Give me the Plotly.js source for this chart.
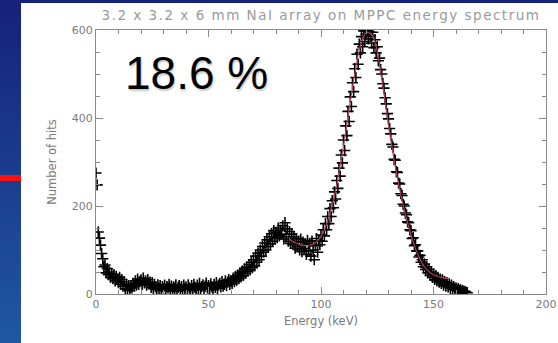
<!DOCTYPE html>
<html>
<head>
<meta charset="utf-8">
<script src="https://cdn.plot.ly/plotly-3.0.1.min.js"></script>
<style>
  html, body { margin:0; padding:0; width:558px; height:343px; overflow:hidden; }
  body { background: linear-gradient(180deg, #16217a 0%, #1a3a8c 45%, #1f58a2 100%); position:relative; }
  #panel { position:absolute; left:21px; top:3px; width:537px; height:340px; background:#ffffff; }
  #redbar { position:absolute; left:0; top:175px; width:21px; height:6px; background:#ff1010; }
  #chart { position:absolute; left:0; top:0; width:558px; height:343px; }
  .annotation-text { text-shadow: 1px 2px 2px rgba(0,0,0,0.22); }
  .gtitle { letter-spacing: 1.5px; }
</style>
</head>
<body>
<div id="panel"></div>
<div id="redbar"></div>
<div id="chart"></div>
<script>
// Measured spectrum: counts per 0.5 keV bin starting at 0 keV
const energyStart = 0;
const energyStep = 0.5;
const counts = [
  275, 248, 141, 127, 111, 92, 80, 62, 66, 48, 58, 44, 50, 38, 46, 35, 44, 30, 40, 34,
  26, 38, 22, 33, 18, 28, 12, 22, 10, 19, 8, 16, 14, 24, 18, 30, 20, 34, 22, 28,
  32, 22, 36, 25, 30, 20, 33, 24, 27, 15, 26, 12, 22, 16, 10, 21, 13, 19, 8, 17,
  12, 20, 9, 17, 14, 22, 10, 18, 7, 16, 13, 21, 9, 15, 19, 11, 17, 8, 20, 13,
  16, 10, 21, 14, 8, 19, 12, 22, 15, 11, 20, 13, 24, 10, 17, 21, 12, 18, 25, 14,
  19, 12, 23, 16, 10, 22, 15, 26, 13, 20, 24, 16, 28, 18, 22, 30, 19, 27, 33, 22,
  30, 24, 36, 28, 40, 31, 43, 35, 48, 39, 52, 42, 57, 47, 61, 52, 67, 55, 72, 60,
  78, 64, 86, 72, 93, 78, 100, 86, 108, 95, 116, 100, 123, 108, 130, 114, 137, 120, 144, 126,
  140, 128, 150, 132, 145, 136, 155, 125, 162, 130, 148, 120, 142, 115, 136, 112, 130, 104, 126, 108,
  120, 100, 125, 96, 118, 104, 112, 90, 122, 98, 115, 86, 120, 100, 78, 110, 126, 95, 121, 112,
  134, 120, 146, 132, 160, 146, 176, 160, 194, 176, 212, 196, 232, 216, 258, 240, 286, 268, 316, 298,
  350, 326, 382, 360, 415, 392, 448, 426, 480, 460, 512, 492, 545, 522, 568, 548, 585, 562, 598, 574,
  590, 598, 580, 596, 586, 570, 595, 560, 578, 548, 562, 530, 536, 510, 500, 478, 468, 446, 432, 410,
  398, 376, 364, 340, 334, 306, 304, 278, 276, 252, 250, 228, 224, 204, 200, 184, 180, 164, 162, 146,
  144, 126, 128, 110, 112, 98, 98, 84, 88, 72, 78, 62, 68, 56, 62, 48, 56, 42, 50, 38,
  46, 33, 42, 30, 38, 27, 34, 24, 32, 20, 28, 18, 26, 16, 23, 13, 20, 12, 17, 10,
  14, 9, 12, 8, 10, 6, 8, 5, 6, 4, 3
];

// Fitted curve: 1 keV steps from 86 keV
const fitStart = 86;
const fitStep = 1;
const fitCounts = [
  124, 121, 118, 116, 114, 112, 111, 110, 110, 111, 112, 115, 119, 124, 131, 140, 152, 167, 184, 203,
  224, 249, 277, 307, 338, 370, 403, 437, 470, 501, 530, 554, 573, 586, 593, 595, 592, 585, 572, 551,
  522, 489, 455, 420, 385, 351, 319, 290, 263, 237, 213, 191, 171, 152, 134, 118, 103, 90, 79, 70,
  62, 56, 51, 47, 44, 42, 40, 38, 37, 36, 35, 34
];

const xTickVals = [0, 50, 100, 150, 200];
const xTickText = ['0', '50', '100', '150', '200'];
const yTickVals = [0, 200, 400, 600];
const yTickText = ['0', '200', '400', '600'];

const titleText = '3.2 x 3.2 x 6 mm NaI array on MPPC energy spectrum';
const xTitle = 'Energy (keV)';
const yTitle = 'Number of hits';
const resolutionLabel = '18.6 %';

const gray = '#8a8a8a';
const labelGray = '#7a7a7a';

const traces = [
  {
    type: 'scatter', mode: 'markers',
    x0: energyStart, dx: energyStep, y: counts,
    marker: { symbol: 'cross-thin', size: 8, color: '#000', line: { color: '#000', width: 1.6 } },
    cliponaxis: true, hoverinfo: 'skip', showlegend: false
  },
  {
    type: 'scatter', mode: 'lines',
    x0: fitStart, dx: fitStep, y: fitCounts,
    line: { color: '#c0405a', width: 1.1, shape: 'spline' },
    hoverinfo: 'skip', showlegend: false
  }
];

const axisCommon = {
  showgrid: false, zeroline: false, showline: true, linecolor: gray, linewidth: 1,
  ticks: 'inside', ticklen: 7, tickcolor: gray, tickwidth: 1, mirror: 'ticks',
  tickfont: { family: 'DejaVu Sans, sans-serif', size: 11, color: labelGray },
  fixedrange: true
};

const layout = {
  width: 558, height: 343,
  margin: { l: 96, r: 12, t: 30, b: 49 },
  paper_bgcolor: 'rgba(0,0,0,0)',
  plot_bgcolor: 'rgba(0,0,0,0)',
  title: {
    text: titleText, xref: 'paper', x: 0.5, xanchor: 'center',
    yref: 'container', y: 0.955, yanchor: 'middle',
    font: { family: 'DejaVu Sans, sans-serif', size: 13.5, color: '#9a9a9a' }
  },
  xaxis: Object.assign({}, axisCommon, {
    range: [0, 200], tickmode: 'array', tickvals: xTickVals, ticktext: xTickText,
    minor: { dtick: 10, ticklen: 4, tickcolor: gray, ticks: 'inside' },
    title: { text: xTitle, standoff: 6, font: { family: 'DejaVu Sans, sans-serif', size: 11.5, color: labelGray } }
  }),
  yaxis: Object.assign({}, axisCommon, {
    range: [0, 600], tickmode: 'array', tickvals: yTickVals, ticktext: yTickText,
    minor: { dtick: 50, ticklen: 4, tickcolor: gray, ticks: 'inside' },
    title: { text: yTitle, standoff: 12, font: { family: 'DejaVu Sans, sans-serif', size: 11.5, color: labelGray } }
  }),
  annotations: [{
    text: resolutionLabel, xref: 'paper', yref: 'paper', x: 0.224, y: 0.838,
    xanchor: 'center', yanchor: 'middle', showarrow: false,
    font: { family: 'Liberation Sans, Arial, sans-serif', size: 46, color: '#000' }
  }]
};

Plotly.newPlot('chart', traces, layout, { staticPlot: true, displayModeBar: false });
</script>
</body>
</html>
